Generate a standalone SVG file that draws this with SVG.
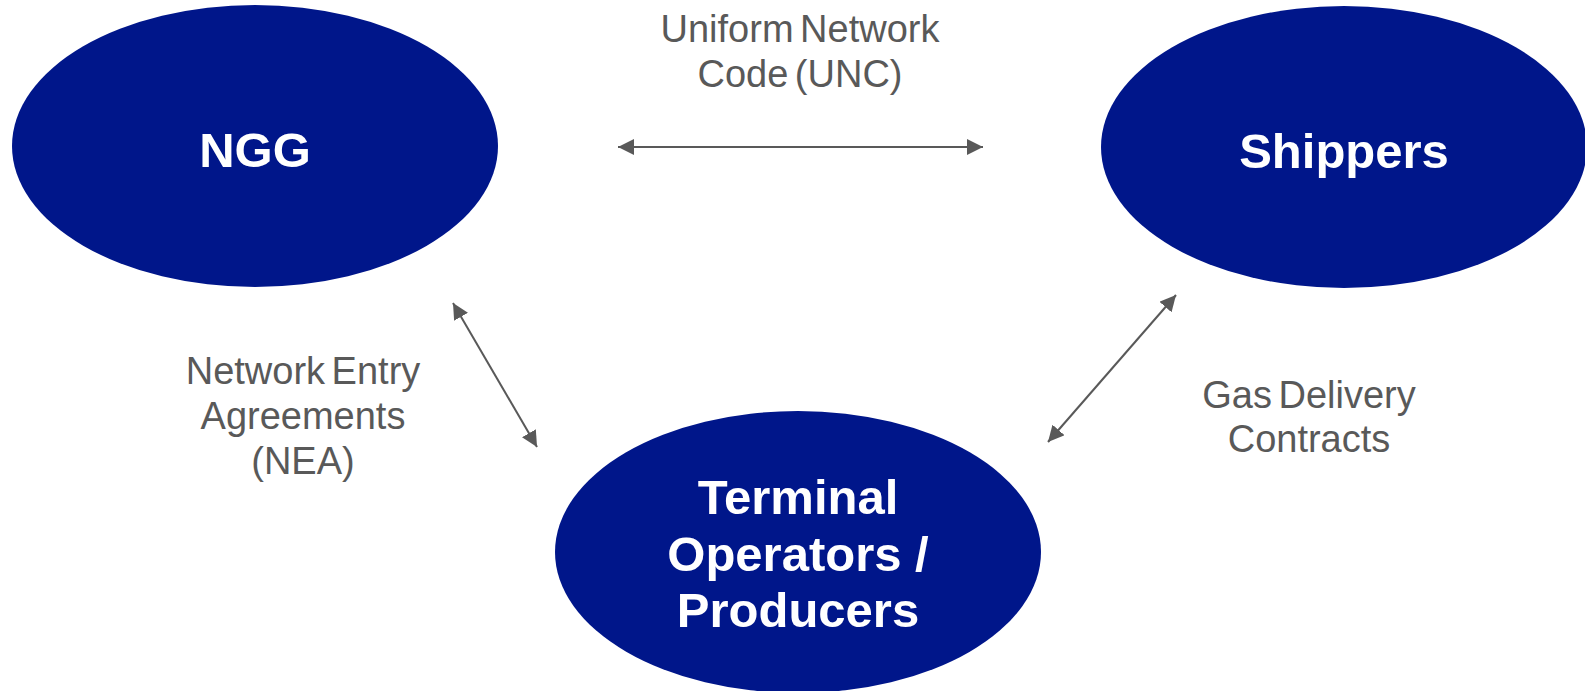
<svg xmlns="http://www.w3.org/2000/svg" width="1585" height="691" viewBox="0 0 1585 691">
<style>
.node{fill:#00168A;}
.nt{font-family:"Liberation Sans",Arial,sans-serif;font-weight:bold;font-size:49px;fill:#ffffff;text-anchor:middle;}
.lbl{font-family:"Liberation Sans",Arial,sans-serif;font-size:38px;fill:#595959;text-anchor:middle;word-spacing:-4px;}
.conn{stroke:#595959;stroke-width:2;fill:none;marker-start:url(#ah);marker-end:url(#ah);}
</style>
<defs>
<marker id="ah" markerUnits="userSpaceOnUse" markerWidth="17" markerHeight="16" refX="16" refY="8" orient="auto-start-reverse" viewBox="0 0 17 16">
<path d="M0,0 L16,8 L0,16 Z" fill="#595959"/>
</marker>
</defs>
<rect width="1585" height="691" fill="#ffffff"/>
<g id="ngg">
<ellipse class="node" cx="255" cy="146" rx="243" ry="141"/>
<text class="nt" x="255" y="167">NGG</text>
</g>
<g id="shippers">
<ellipse class="node" cx="1344" cy="147" rx="243" ry="141"/>
<text class="nt" x="1344" y="168">Shippers</text>
</g>
<g id="terminal">
<ellipse class="node" cx="798" cy="552" rx="243" ry="141"/>
<text class="nt" x="798" y="514">Terminal</text>
<text class="nt" x="798" y="571">Operators /</text>
<text class="nt" x="798" y="627">Producers</text>
</g>
<g id="connectors">
<line class="conn" x1="618" y1="147" x2="983" y2="147"/>
<line class="conn" x1="453" y1="303" x2="537" y2="447"/>
<line class="conn" x1="1176" y1="295" x2="1048" y2="442"/>
</g>
<g id="labels">
<text class="lbl" x="800" y="42">Uniform Network</text>
<text class="lbl" x="800" y="87">Code (UNC)</text>
<text class="lbl" x="303" y="384">Network Entry</text>
<text class="lbl" x="303" y="429">Agreements</text>
<text class="lbl" x="303" y="474">(NEA)</text>
<text class="lbl" x="1309" y="408">Gas Delivery</text>
<text class="lbl" x="1309" y="452">Contracts</text>
</g>
</svg>
